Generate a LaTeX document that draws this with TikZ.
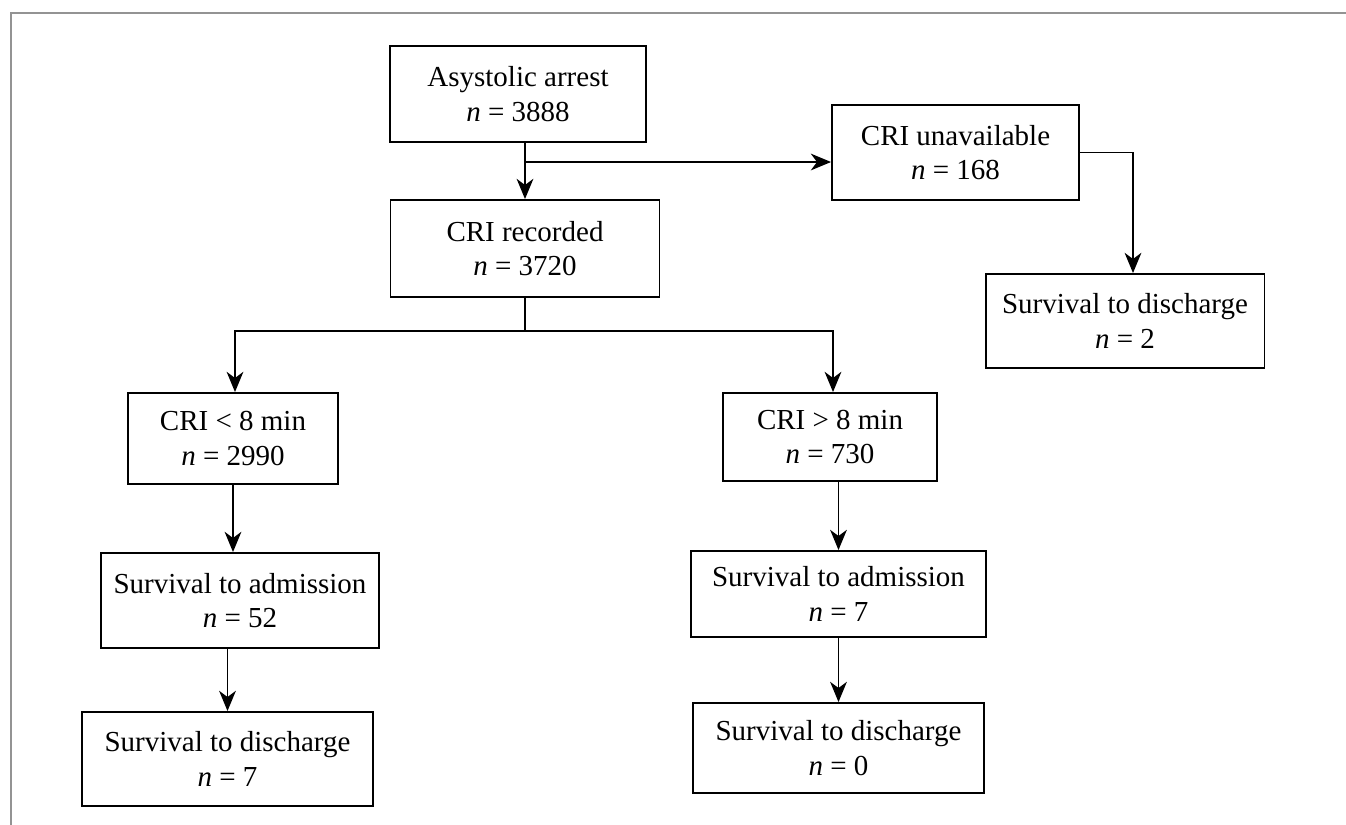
\documentclass[tikz,border=0pt]{standalone}
\usepackage{fontspec}
\setmainfont{Liberation Serif}
\usepackage{tikz}
\usetikzlibrary{arrows.meta, positioning, calc}

\tikzset{
  box/.style={rectangle,draw=black,line width=1.1pt,align=center,inner sep=0pt,
              font=\fontsize{16.5}{19.5}\selectfont},
  arr/.style={-{Stealth[length=11.5pt,width=9.5pt,inset=3.5pt]},line width=1pt},
  ln/.style={line width=1pt}
}

\begin{document}
\begin{tikzpicture}[x=0.02cm,y=-0.02cm]
      \useasboundingbox (0,0) rectangle (1346,825);
      \draw[gray!85,line width=1.2pt](11,825)--(11,13)--(1346,13);
      % top row
      \node[box,minimum width=5.12cm,minimum height=1.92cm]
            (ast)at(518,94)    {Asystolic arrest\\\textit{n} = 3888};
      \node[box,minimum width=5.38cm,minimum height=1.94cm]
            (rec)at(525,248.5) {CRI recorded\\\textit{n} = 3720};
      \node[box,minimum width=4.94cm,minimum height=1.90cm]
            (unav)at(955.5,152.5) {CRI unavailable\\\textit{n} = 168};
      \node[box,minimum width=5.58cm,minimum height=1.88cm]
            (dis3)at(1125,321) {Survival to discharge\\\textit{n} = 2};
      % split by CRI
      \node[box,minimum width=4.20cm,minimum height=1.82cm]
            (lt)at(233,438.5)  {CRI < 8 min\\\textit{n} = 2990};
      \node[box,minimum width=4.28cm,minimum height=1.76cm]
            (gt)at(830,437)    {CRI > 8 min\\\textit{n} = 730};
      \node[box,minimum width=5.56cm,minimum height=1.90cm]
            (adm1)at(240,600.5){Survival to admission\\\textit{n} = 52};
      \node[box,minimum width=5.90cm,minimum height=1.72cm]
            (adm2)at(838.5,594){Survival to admission\\\textit{n} = 7};
      \node[box,minimum width=5.82cm,minimum height=1.88cm]
            (dis1)at(227.5,759){Survival to discharge\\\textit{n} = 7};
      \node[box,minimum width=5.82cm,minimum height=1.80cm]
            (dis2)at(838.5,748){Survival to discharge\\\textit{n} = 0};
      % connectors
      \coordinate (b1) at (525,162);
      \coordinate (b2) at (525,331);
      \draw[arr](rec.north |- ast.south)--(rec.north);
      \draw[arr](b1)--(b1 -| unav.west);
      \draw[arr](unav.east)-|([xshift=0.16cm]dis3.north);
      \draw[ln](rec.south)--(b2);
      \draw[arr](b2)-|([xshift=0.04cm]lt.north);
      \draw[arr](b2)-|([xshift=0.06cm]gt.north);
      \draw[arr](lt.south)--(lt.south |- adm1.north);
      \draw[arr](dis1.north |- adm1.south)--(dis1.north);
      \draw[arr](adm2.north |- gt.south)--(adm2.north);
      \draw[arr](adm2.south)--(dis2.north);
\end{tikzpicture}
\end{document}
